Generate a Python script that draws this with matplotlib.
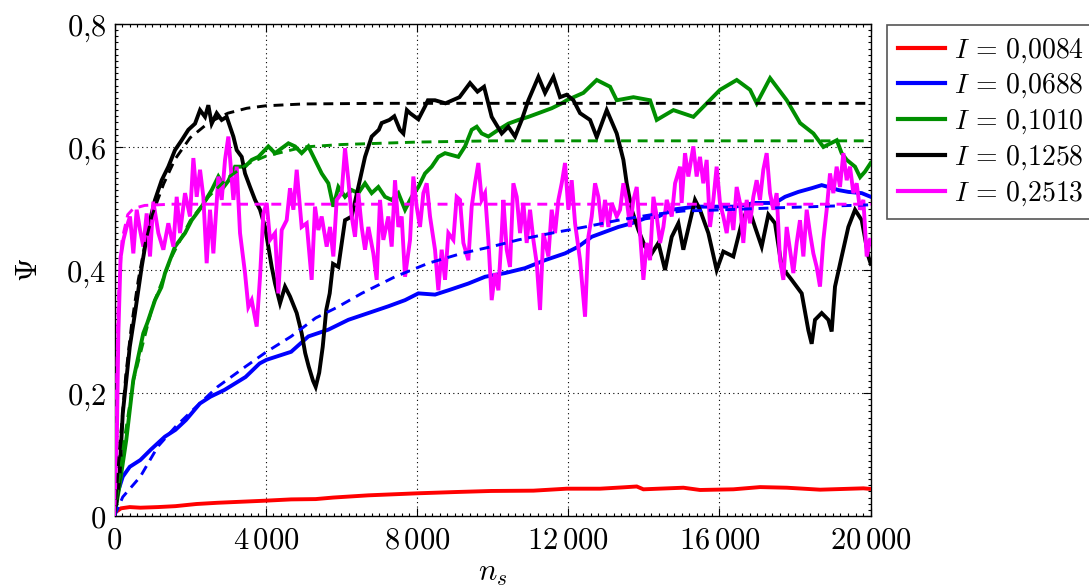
import matplotlib
matplotlib.use('Agg')
import matplotlib.pyplot as plt
from matplotlib.ticker import MultipleLocator, FuncFormatter

plt.rcParams['mathtext.fontset'] = 'cm'
plt.rcParams['font.family'] = ['DejaVu Serif']

# ---------------- data ----------------
labels = [r'$I\,=\,0{,}0084$', r'$I\,=\,0{,}0688$', r'$I\,=\,0{,}1010$',
          r'$I\,=\,0{,}1258$', r'$I\,=\,0{,}2513$']
colors = ['#ff0000', '#0000ff', '#008f00', '#000000', '#ff00ff']

red_pts = [(0, 0.005), (173, 0.0125), (404, 0.0145), (683, 0.0135), (1147, 0.0145),
           (1611, 0.016), (2167, 0.0195), (2724, 0.0215), (3466, 0.0235), (4022, 0.025),
           (4672, 0.027), (5321, 0.0275), (5785, 0.030), (6713, 0.0336), (8011, 0.0369),
           (9032, 0.039), (9958, 0.0407), (11079, 0.0412), (11960, 0.0444), (12842, 0.0444),
           (13459, 0.0466), (13812, 0.048), (13988, 0.0434), (15046, 0.046), (15487, 0.0423),
           (16369, 0.0434), (17074, 0.047), (17780, 0.046), (18661, 0.0428), (19807, 0.045),
           (20000, 0.044)]

blue_pts = [(0, 0.0), (80, 0.037), (219, 0.064), (404, 0.08), (683, 0.091), (961, 0.108),
            (1332, 0.129), (1611, 0.14), (1889, 0.156), (2260, 0.183), (2538, 0.194),
            (2909, 0.205), (3466, 0.226), (3837, 0.248), (4022, 0.254), (4672, 0.267),
            (5127, 0.292), (5656, 0.303), (6185, 0.319), (6714, 0.33), (7243, 0.341),
            (7684, 0.351), (8037, 0.362), (8477, 0.36), (8830, 0.367), (9359, 0.378),
            (9800, 0.389), (10329, 0.395), (10858, 0.403), (11387, 0.416), (11916, 0.427),
            (12269, 0.438), (12621, 0.454), (12974, 0.462), (13327, 0.47), (13680, 0.476),
            (14032, 0.484), (14385, 0.487), (14738, 0.498), (15353, 0.503), (15882, 0.503),
            (16411, 0.503), (16940, 0.509), (17469, 0.509), (17734, 0.519), (18087, 0.527),
            (18439, 0.533), (18704, 0.538), (18880, 0.535), (19145, 0.53), (19409, 0.527),
            (19762, 0.525), (20000, 0.519)]

green_pts = [(0, 0.0), (126, 0.047), (312, 0.124), (497, 0.221), (761, 0.297), (868, 0.314),
             (1071, 0.351), (1239, 0.372), (1336, 0.395), (1600, 0.438), (1865, 0.46),
             (2042, 0.481), (2306, 0.503), (2571, 0.53), (2747, 0.552), (2900, 0.536),
             (3011, 0.545), (3188, 0.568), (3452, 0.568), (3628, 0.579), (3805, 0.584),
             (4069, 0.601), (4246, 0.59), (4599, 0.606), (4775, 0.601), (4950, 0.59),
             (5127, 0.601), (5303, 0.579), (5480, 0.557), (5656, 0.541), (5788, 0.503),
             (5920, 0.535), (6097, 0.519), (6273, 0.53), (6449, 0.525), (6626, 0.541),
             (6802, 0.525), (6978, 0.535), (7154, 0.519), (7331, 0.514), (7507, 0.525),
             (7684, 0.498), (7860, 0.519), (8037, 0.535), (8213, 0.557), (8389, 0.568),
             (8565, 0.584), (8742, 0.59), (8918, 0.587), (9094, 0.584), (9271, 0.601),
             (9447, 0.628), (9580, 0.633), (9712, 0.622), (9888, 0.617), (10153, 0.628),
             (10417, 0.638), (10682, 0.644), (10946, 0.649), (11211, 0.655), (11563, 0.663),
             (11828, 0.671), (11960, 0.676), (12401, 0.688), (12754, 0.709), (13107, 0.698),
             (13283, 0.676), (13724, 0.681), (14165, 0.676), (14341, 0.644), (14782, 0.66),
             (15311, 0.649), (15663, 0.671), (16016, 0.693), (16457, 0.709), (16810, 0.693),
             (16986, 0.671), (17339, 0.712), (17780, 0.676), (18132, 0.639), (18485, 0.622),
             (18749, 0.6), (19102, 0.611), (19232, 0.59), (19367, 0.579), (19585, 0.568),
             (19720, 0.551), (19850, 0.56), (20000, 0.574)]

black_pts = [(0, 0.0), (126, 0.059), (219, 0.167), (404, 0.275), (542, 0.33), (719, 0.405),
             (895, 0.47), (1071, 0.514), (1248, 0.546), (1424, 0.568), (1600, 0.595),
             (1777, 0.611), (1953, 0.628), (2130, 0.638), (2262, 0.66), (2394, 0.649),
             (2482, 0.668), (2570, 0.638), (2703, 0.655), (2835, 0.644), (2967, 0.649),
             (3055, 0.633), (3144, 0.617), (3232, 0.595), (3364, 0.584), (3452, 0.557),
             (3585, 0.535), (3717, 0.514), (3849, 0.498), (3981, 0.47), (4069, 0.438),
             (4158, 0.405), (4246, 0.378), (4378, 0.346), (4510, 0.373), (4642, 0.357),
             (4819, 0.33), (4951, 0.297), (5043, 0.265), (5136, 0.243), (5250, 0.22),
             (5321, 0.21), (5414, 0.233), (5507, 0.275), (5600, 0.335), (5692, 0.362),
             (5780, 0.41), (5920, 0.405), (6097, 0.481), (6273, 0.487), (6449, 0.535),
             (6626, 0.584), (6802, 0.617), (6991, 0.628), (7066, 0.639), (7270, 0.644),
             (7400, 0.65), (7548, 0.628), (7640, 0.622), (7733, 0.66), (7816, 0.655),
             (8037, 0.645), (8213, 0.666), (8289, 0.676), (8477, 0.676), (8753, 0.671),
             (9124, 0.681), (9403, 0.704), (9600, 0.69), (9774, 0.698), (9976, 0.649),
             (10241, 0.622), (10417, 0.633), (10594, 0.617), (10770, 0.644), (10946, 0.676),
             (11211, 0.714), (11387, 0.688), (11608, 0.714), (11784, 0.681), (11960, 0.685),
             (12137, 0.676), (12313, 0.655), (12578, 0.644), (12754, 0.616), (13018, 0.66),
             (13283, 0.622), (13459, 0.579), (13547, 0.541), (13680, 0.498), (13856, 0.465),
             (14032, 0.438), (14209, 0.427), (14385, 0.444), (14561, 0.4), (14738, 0.454),
             (14914, 0.476), (15044, 0.433), (15353, 0.514), (15485, 0.498), (15706, 0.46),
             (15926, 0.4), (16102, 0.43), (16367, 0.422), (16587, 0.476), (16764, 0.503),
             (16940, 0.47), (17117, 0.438), (17293, 0.49), (17469, 0.476), (17646, 0.405),
             (17910, 0.384), (18175, 0.362), (18351, 0.302), (18439, 0.28), (18527, 0.319),
             (18704, 0.33), (18880, 0.319), (18968, 0.3), (19056, 0.373), (19233, 0.422),
             (19409, 0.47), (19585, 0.498), (19762, 0.481), (19938, 0.422), (20000, 0.41)]

magenta_pts = [(0, 0.02), (60, 0.12), (102, 0.297), (160, 0.42), (234, 0.449), (322, 0.47),
               (410, 0.487), (498, 0.427), (587, 0.498), (675, 0.465), (763, 0.438),
               (851, 0.492), (939, 0.422), (1027, 0.511), (1160, 0.46), (1292, 0.433),
               (1424, 0.476), (1557, 0.438), (1645, 0.519), (1733, 0.46), (1865, 0.525),
               (1997, 0.487), (2086, 0.582), (2174, 0.519), (2262, 0.563), (2350, 0.519),
               (2438, 0.411), (2526, 0.498), (2615, 0.427), (2747, 0.552), (2835, 0.514),
               (2923, 0.579), (3011, 0.617), (3144, 0.514), (3232, 0.568), (3320, 0.46),
               (3452, 0.395), (3540, 0.34), (3628, 0.351), (3761, 0.308), (3849, 0.389),
               (3937, 0.492), (4025, 0.509), (4113, 0.449), (4246, 0.46), (4334, 0.362),
               (4422, 0.465), (4554, 0.481), (4642, 0.533), (4731, 0.498), (4819, 0.563),
               (4950, 0.47), (5083, 0.476), (5215, 0.384), (5303, 0.503), (5391, 0.465),
               (5479, 0.487), (5612, 0.438), (5700, 0.47), (5788, 0.422), (5876, 0.514),
               (6008, 0.525), (6097, 0.598), (6185, 0.546), (6273, 0.487), (6361, 0.454),
               (6449, 0.525), (6537, 0.47), (6626, 0.433), (6714, 0.47), (6846, 0.427),
               (6934, 0.384), (7022, 0.514), (7110, 0.449), (7243, 0.487), (7331, 0.438),
               (7419, 0.546), (7507, 0.47), (7595, 0.487), (7684, 0.389), (7816, 0.449),
               (7904, 0.552), (7992, 0.503), (8080, 0.47), (8169, 0.525), (8257, 0.541),
               (8345, 0.487), (8477, 0.433), (8565, 0.367), (8653, 0.433), (8742, 0.384),
               (8830, 0.46), (8962, 0.449), (9050, 0.519), (9138, 0.514), (9227, 0.444),
               (9359, 0.416), (9447, 0.503), (9535, 0.541), (9623, 0.574), (9712, 0.514),
               (9800, 0.525), (9888, 0.449), (9976, 0.351), (10065, 0.395), (10153, 0.367),
               (10241, 0.46), (10285, 0.514), (10373, 0.433), (10461, 0.405), (10549, 0.541),
               (10638, 0.519), (10726, 0.46), (10814, 0.509), (10902, 0.444), (10990, 0.498),
               (11078, 0.449), (11167, 0.411), (11255, 0.335), (11343, 0.46), (11475, 0.422),
               (11563, 0.498), (11652, 0.46), (11740, 0.514), (11828, 0.541), (11916, 0.574),
               (12004, 0.498), (12092, 0.546), (12181, 0.476), (12313, 0.416), (12445, 0.324),
               (12533, 0.454), (12621, 0.487), (12710, 0.541), (12798, 0.519), (12886, 0.47),
               (12974, 0.514), (13062, 0.47), (13150, 0.509), (13283, 0.487), (13371, 0.498),
               (13459, 0.541), (13547, 0.514), (13635, 0.47), (13724, 0.514), (13812, 0.535),
               (13900, 0.46), (13988, 0.384), (14076, 0.444), (14164, 0.416), (14253, 0.519),
               (14341, 0.487), (14429, 0.444), (14517, 0.47), (14605, 0.514), (14738, 0.487),
               (14826, 0.541), (14958, 0.568), (15000, 0.509), (15089, 0.59), (15177, 0.552),
               (15309, 0.601), (15397, 0.552), (15485, 0.584), (15573, 0.541), (15662, 0.579),
               (15750, 0.47), (15838, 0.514), (15926, 0.568), (16014, 0.509), (16102, 0.487),
               (16191, 0.46), (16279, 0.503), (16367, 0.465), (16455, 0.535), (16543, 0.509),
               (16631, 0.444), (16720, 0.514), (16808, 0.476), (16896, 0.519), (16984, 0.546),
               (17072, 0.514), (17160, 0.563), (17249, 0.59), (17337, 0.525), (17425, 0.498),
               (17513, 0.525), (17601, 0.416), (17690, 0.384), (17778, 0.47), (17866, 0.433),
               (17954, 0.395), (18042, 0.444), (18130, 0.481), (18219, 0.422), (18307, 0.498),
               (18395, 0.46), (18483, 0.427), (18571, 0.405), (18659, 0.373), (18748, 0.449),
               (18836, 0.498), (18924, 0.557), (19012, 0.525), (19100, 0.568), (19188, 0.535),
               (19277, 0.59), (19365, 0.546), (19453, 0.568), (19541, 0.525), (19629, 0.541),
               (19717, 0.498), (19806, 0.514), (19894, 0.422), (19982, 0.449)]

# fitted (dashed) curves
blue_fit = [(0, 0.0), (219, 0.031), (683, 0.064), (1147, 0.113), (1611, 0.145), (2167, 0.178),
            (2724, 0.21), (3466, 0.243), (4022, 0.267), (4672, 0.292), (5321, 0.322),
            (5878, 0.339), (6537, 0.362), (7419, 0.389), (8301, 0.411), (9183, 0.427),
            (9976, 0.438), (10682, 0.449), (11563, 0.46), (12445, 0.47), (13327, 0.481),
            (14209, 0.49), (15046, 0.496), (15706, 0.497), (17469, 0.501), (20000, 0.506)]
green_fit = [(0, 0.0), (250, 0.12), (500, 0.22), (1000, 0.34), (1500, 0.42), (2000, 0.48),
             (2500, 0.52), (3000, 0.55), (3500, 0.572), (4000, 0.585), (5000, 0.6),
             (6000, 0.604), (8000, 0.608), (10000, 0.61), (20000, 0.61)]
black_fit = [(0, 0.0), (150, 0.12), (300, 0.23), (450, 0.31), (630, 0.384), (800, 0.44),
             (1000, 0.49), (1300, 0.54), (1600, 0.58), (2000, 0.615), (2500, 0.64),
             (3000, 0.655), (3500, 0.663), (4000, 0.667), (5000, 0.67), (7000, 0.671),
             (20000, 0.671)]
magenta_fit = [(0, 0.0), (50, 0.2), (100, 0.35), (200, 0.45), (350, 0.49), (500, 0.5),
               (800, 0.505), (1500, 0.507), (20000, 0.507)]

x_ticks = [0, 4000, 8000, 12000, 16000, 20000]
y_ticks = [0, 0.2, 0.4, 0.6, 0.8]

# ---------------- plot ----------------
fig = plt.figure(figsize=(10.89, 5.87), dpi=100)
ax = fig.add_axes([114.5 / 1089, 1 - 516 / 587, (870.7 - 114.5) / 1089, (516 - 24) / 587])

series = [red_pts, blue_pts, green_pts, black_pts, magenta_pts]
for pts, c, lab in zip(series, colors, labels):
    xs, ys = zip(*pts)
    ax.plot(xs, ys, color=c, lw=2.8, label=lab, solid_joinstyle='miter', zorder=3)

fits = [(blue_fit, colors[1]), (green_fit, colors[2]), (black_fit, colors[3]),
        (magenta_fit, colors[4])]
for pts, c in fits:
    xs, ys = zip(*pts)
    ax.plot(xs, ys, color=c, lw=2.1, linestyle=(0, (3.4, 2.3)), zorder=4)

ax.set_xlim(0, 20000)
ax.set_ylim(0, 0.8)
ax.set_xticks(x_ticks)
ax.set_yticks(y_ticks)
ax.xaxis.set_minor_locator(MultipleLocator(200))
ax.yaxis.set_minor_locator(MultipleLocator(0.01))


def xfmt(v, pos):
    v = int(round(v))
    if v == 0:
        return r'$0$'
    s = f'{v:,}'.replace(',', r'\,')
    return f'${s}$'


def yfmt(v, pos):
    if abs(v) < 1e-9:
        return r'$0$'
    return '$' + f'{v:.1f}'.replace('.', '{,}') + '$'


ax.xaxis.set_major_formatter(FuncFormatter(xfmt))
ax.yaxis.set_major_formatter(FuncFormatter(yfmt))
ax.tick_params(which='both', direction='in', top=True, right=True, width=0.8)
ax.tick_params(which='major', length=6, labelsize=22, pad=6)
ax.tick_params(which='minor', length=2.5)
ax.grid(True, which='major', linestyle=(0, (1, 3)), color='black', linewidth=0.8)
ax.set_axisbelow(True)
for sp in ax.spines.values():
    sp.set_linewidth(1.0)

ax.set_xlabel(r'$n_s$', fontsize=22, labelpad=1)
ax.set_ylabel(r'$\Psi$', fontsize=22, labelpad=16)

leg = ax.legend(loc='upper left', bbox_to_anchor=(887 / 1089, 1 - 25 / 587),
                bbox_transform=fig.transFigure, borderaxespad=0, fontsize=20,
                frameon=True, fancybox=False, edgecolor='#555555', framealpha=1,
                handlelength=1.7, handletextpad=0.3, labelspacing=0.26, borderpad=0.4)
leg.get_frame().set_linewidth(1.2)
for line in leg.get_lines():
    line.set_linewidth(3)

fig.savefig('out.png', dpi=100)
